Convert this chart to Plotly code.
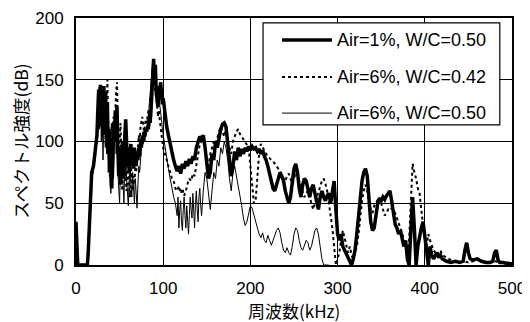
import plotly.graph_objects as go

# ---- data (frequency kHz, spectrum dB) ----
freq_a = [0, 1, 2, 5, 10, 13, 14, 16, 18, 20, 22, 24, 25, 26, 27, 28, 29, 30, 31, 32, 33, 34, 35, 36, 37, 38, 39, 40,
          41, 42, 43, 44, 45, 46, 47, 48, 49, 50, 51, 52, 53, 54, 55, 56, 57, 58, 59, 60, 61, 62, 63, 64, 65, 66, 67,
          68, 69, 70, 71, 72, 73, 74, 75, 76, 77, 78, 79, 80, 81, 82, 83, 84, 85, 86, 87, 88, 89, 90, 91, 92, 93, 94,
          95, 96, 97, 98, 99, 100, 102, 104, 106, 108, 110, 112, 114, 116, 118, 120, 122, 124, 126, 128, 130, 132,
          134, 136, 138, 140, 142, 144, 146, 148, 150, 152, 154, 156, 158, 160, 162, 164, 166, 168, 170, 172, 174,
          176, 178, 180, 182, 184, 186, 188, 190, 192, 194, 196, 198, 200, 202, 204, 206, 208, 210, 212, 214, 216,
          218, 220, 222, 224, 226, 228, 230, 232, 234, 236, 238, 240, 242, 244, 246, 248, 250, 252, 254, 256, 258,
          260, 262, 264, 266, 268, 270, 272, 274, 276, 278, 280, 282, 284, 286, 288, 290, 292, 294, 296, 298, 300,
          302, 304, 306, 308, 310, 312, 314, 316, 318, 320, 322, 324, 326, 328, 330, 332, 334, 336, 338, 340, 342,
          344, 346, 348, 350, 352, 354, 356, 358, 360, 362, 364, 366, 368, 370, 372, 374, 376, 378, 380, 382, 384,
          386, 388, 390, 392, 394, 396, 398, 400, 402, 404, 406, 408, 410, 412, 414, 416, 418, 420, 425, 430, 435,
          440, 444, 446, 448, 450, 452, 455, 460, 465, 470, 475, 478, 480, 482, 484, 486, 490, 495, 500]
db_a = [35, 12, 0, 0, 0, 0, 10, 45, 75, 80, 92, 105, 125, 142, 118, 146, 112, 138, 105, 145, 118, 140, 100, 132, 90,
        110, 75, 85, 62, 90, 115, 100, 125, 110, 128, 95, 72, 80, 65, 95, 85, 100, 70, 105, 118, 100, 80, 95, 75, 90,
        98, 80, 92, 78, 95, 85, 80, 90, 85, 95, 88, 100, 95, 105, 100, 108, 104, 110, 108, 112, 110, 118, 115, 125,
        145, 160, 167, 150, 162, 140, 130, 128, 145, 135, 148, 140, 130, 135, 120, 112, 105, 98, 90, 85, 80, 76, 80,
        74, 82, 78, 84, 80, 86, 82, 88, 85, 95, 100, 104, 102, 105, 95, 80, 70, 75, 90, 85, 100, 95, 105, 110, 114,
        115, 112, 100, 85, 72, 80, 92, 85, 95, 88, 94, 90, 95, 92, 96, 93, 96, 94, 95, 92, 94, 90, 93, 88, 85, 80,
        75, 68, 62, 60, 65, 70, 75, 72, 68, 60, 55, 50, 55, 65, 78, 82, 75, 62, 55, 65, 70, 68, 60, 55, 62, 65, 58,
        50, 45, 55, 60, 55, 52, 56, 58, 50, 60, 68, 45, 25, 20, 25, 15, 12, 8, 5, 3, 0, 5, 12, 25, 40, 55, 68, 75,
        78, 72, 55, 35, 28, 30, 40, 50, 54, 52, 55, 53, 56, 58, 60, 52, 40, 33, 30, 25, 28, 20, 15, 20, 5, 0, 35, 55,
        30, 0, 15, 25, 30, 35, 25, 15, 0, 15, 8, 5, 8, 10, 6, 8, 5, 3, 2, 3, 2, 3, 12, 18, 10, 5, 4, 5, 3, 2, 2, 3,
        10, 12, 4, 2, 2, 1, 1]

freq_b = [0, 1, 2, 13, 14, 16, 18, 20, 22, 24, 26, 27, 28, 29, 30, 31, 32, 33, 34, 35, 36, 37, 38, 39, 40, 41, 42, 43,
          44, 45, 46, 47, 48, 49, 50, 51, 52, 53, 54, 55, 56, 57, 58, 59, 60, 61, 62, 63, 64, 65, 66, 67, 68, 69, 70,
          71, 72, 73, 74, 75, 76, 77, 78, 79, 80, 81, 82, 83, 84, 85, 86, 87, 88, 89, 90, 91, 92, 93, 94, 95, 96, 97,
          98, 99, 100, 102, 104, 106, 108, 110, 112, 114, 116, 118, 120, 122, 124, 126, 128, 130, 132, 134, 136, 138,
          140, 142, 144, 146, 148, 150, 152, 154, 156, 158, 160, 162, 164, 166, 168, 170, 172, 174, 176, 178, 180,
          182, 184, 186, 188, 190, 192, 194, 196, 198, 200, 202, 204, 206, 208, 210, 212, 214, 216, 218, 220, 222,
          224, 226, 228, 230, 232, 234, 236, 238, 240, 242, 244, 246, 248, 250, 252, 254, 256, 258, 260, 262, 264,
          266, 268, 270, 272, 274, 276, 278, 280, 282, 284, 286, 288, 290, 292, 294, 296, 298, 300, 302, 304, 306,
          308, 310, 312, 314, 316, 318, 320, 322, 324, 326, 328, 330, 332, 334, 336, 338, 340, 342, 344, 346, 348,
          350, 352, 354, 356, 358, 360, 362, 364, 366, 368, 370, 372, 374, 376, 378, 380, 382, 384, 386, 388, 390,
          392, 394, 396, 398, 400, 402, 404, 406, 408, 410, 412, 414, 416, 418, 420, 425, 430, 435, 440, 445, 450,
          455, 460, 470, 480, 490, 500]
db_b = [30, 10, 0, 0, 8, 40, 70, 78, 90, 100, 130, 145, 120, 140, 105, 135, 110, 140, 95, 120, 150, 110, 90, 70, 95,
        115, 100, 120, 105, 130, 140, 148, 110, 80, 100, 115, 90, 60, 85, 95, 80, 70, 60, 75, 85, 65, 55, 80, 70, 60,
        72, 65, 80, 75, 90, 95, 105, 100, 112, 118, 120, 115, 108, 112, 118, 115, 120, 125, 118, 130, 140, 150, 155,
        160, 145, 140, 135, 130, 120, 125, 118, 110, 108, 100, 95, 90, 85, 80, 75, 70, 68, 62, 60, 64, 58, 62, 56,
        60, 66, 70, 68, 74, 72, 80, 90, 98, 100, 104, 95, 85, 80, 90, 95, 100, 98, 104, 108, 112, 108, 104, 110, 100,
        95, 90, 100, 105, 108, 110, 106, 104, 102, 100, 98, 95, 80, 62, 50, 52, 70, 90, 98, 95, 92, 90, 88, 86, 85,
        84, 82, 80, 78, 76, 72, 70, 68, 72, 74, 70, 66, 70, 75, 72, 68, 64, 60, 55, 58, 60, 55, 50, 45, 50, 55, 60,
        65, 68, 70, 66, 60, 50, 40, 30, 15, 0, 5, 10, 20, 28, 22, 15, 10, 15, 8, 5, 10, 15, 25, 40, 52, 60, 65, 60,
        50, 45, 42, 48, 50, 52, 55, 50, 45, 40, 42, 45, 44, 46, 44, 42, 38, 34, 30, 26, 20, 15, 10, 20, 50, 82, 75,
        70, 62, 58, 45, 30, 20, 15, 25, 20, 15, 12, 10, 8, 10, 12, 8, 6, 4, 3, 2, 3, 2, 3, 4, 2, 3, 2, 2, 1]

freq_c = [0, 1, 2, 13, 14, 16, 18, 20, 22, 24, 25, 26, 27, 28, 29, 30, 31, 32, 33, 34, 35, 36, 37, 38, 39, 40, 41, 42,
          43, 44, 45, 46, 47, 48, 49, 50, 51, 52, 53, 54, 55, 56, 57, 58, 59, 60, 61, 62, 63, 64, 65, 66, 67, 68, 69,
          70, 71, 72, 73, 74, 75, 76, 77, 78, 79, 80, 81, 82, 83, 84, 85, 86, 87, 88, 89, 90, 91, 92, 93, 94, 95, 96,
          97, 98, 99, 100, 102, 104, 106, 108, 110, 112, 114, 116, 117, 118, 119, 120, 121, 122, 123, 124, 125, 126,
          127, 128, 129, 130, 131, 132, 133, 134, 135, 136, 137, 138, 139, 140, 141, 142, 143, 144, 146, 148, 150,
          152, 154, 156, 158, 160, 162, 164, 166, 168, 170, 172, 174, 176, 178, 180, 182, 184, 186, 188, 190, 192,
          194, 196, 198, 200, 202, 204, 206, 208, 210, 212, 214, 216, 218, 220, 222, 224, 226, 228, 230, 232, 234,
          236, 238, 240, 242, 244, 246, 248, 250, 252, 254, 256, 258, 260, 262, 264, 266, 268, 270, 272, 274, 276,
          278, 280, 282, 284, 290]
db_c = [35, 10, 0, 0, 10, 50, 75, 80, 90, 100, 115, 135, 110, 140, 100, 125, 85, 130, 110, 130, 90, 105, 75, 95, 65,
        58, 80, 100, 70, 110, 120, 90, 110, 75, 55, 50, 80, 100, 80, 60, 50, 85, 95, 70, 55, 48, 70, 85, 65, 55, 75,
        60, 50, 70, 60, 46, 65, 80, 75, 90, 95, 100, 98, 105, 100, 108, 112, 118, 120, 130, 140, 150, 158, 165, 160,
        150, 145, 135, 128, 130, 138, 130, 125, 118, 110, 105, 95, 85, 78, 70, 62, 55, 50, 40, 55, 30, 45, 52, 35,
        28, 45, 55, 40, 30, 48, 35, 25, 40, 55, 45, 38, 58, 42, 30, 50, 60, 45, 35, 55, 62, 48, 40, 60, 75, 70, 55,
        45, 60, 75, 70, 85, 80, 95, 90, 100, 95, 85, 70, 60, 75, 80, 72, 65, 55, 48, 38, 32, 35, 42, 48, 46, 40, 35,
        30, 25, 22, 26, 20, 18, 24, 20, 16, 20, 24, 28, 30, 26, 18, 12, 10, 14, 10, 8, 15, 25, 30, 28, 20, 14, 12,
        16, 20, 18, 12, 15, 22, 28, 30, 25, 15, 5, 0, 0]

series_names = ["Air=1%, W/C=0.50", "Air=6%, W/C=0.42", "Air=6%, W/C=0.50"]
x_ticks = [0, 100, 200, 300, 400, 500]
y_ticks = [0, 50, 100, 150, 200]
x_title = "周波数(kHz)"
y_title = "スペクトル強度(dB)"

FONT = "Liberation Sans, Arial, Noto Sans CJK JP, sans-serif"
JP = "Noto Sans CJK JP, Liberation Sans, sans-serif"

styles = [dict(color="black", width=3.5),
          dict(color="black", width=2, dash="dot"),
          dict(color="black", width=1)]
series = [(freq_a, db_a), (freq_b, db_b), (freq_c, db_c)]

fig = go.Figure()
for (fx, fy), name, st in zip(series, series_names, styles):
    fig.add_trace(go.Scatter(x=fx, y=fy, mode="lines", name=name, line=st, showlegend=False))

# ---- legend box drawn inside the plot (upper right), as in the reference ----
box = dict(x0=0.429, x1=0.972, y0=0.567, y1=0.980)
row_y = [0.911, 0.761, 0.615]
line_x = (0.4725, 0.587)
text_x = 0.593
shapes = [dict(type="rect", xref="paper", yref="paper", layer="above",
               fillcolor="white", line=dict(color="black", width=1.2), **box)]
annotations = []
for name, st, ry in zip(series_names, styles, row_y):
    shapes.append(dict(type="line", xref="paper", yref="paper", layer="above",
                       x0=line_x[0], x1=line_x[1], y0=ry, y1=ry, line=st))
    annotations.append(dict(text=name, xref="paper", yref="paper", x=text_x, y=ry,
                            xanchor="left", yanchor="middle", showarrow=False,
                            font=dict(family=FONT, size=18, color="black")))

# axis titles
annotations.append(dict(text=x_title, xref="paper", yref="paper", x=0.5, y=-0.183,
                        xanchor="center", yanchor="middle", showarrow=False,
                        font=dict(family=JP, size=17, color="black")))
annotations.append(dict(text=y_title, xref="paper", yref="paper", x=-0.128, y=0.50,
                        xanchor="center", yanchor="middle", showarrow=False, textangle=-90,
                        font=dict(family=JP, size=17.5, color="black")))

# the page body adds an 8 px margin, so the figure is sized 8 px smaller
fig.update_layout(
    width=522, height=314,
    margin=dict(l=68, r=18, t=10, b=57, autoexpand=False),
    paper_bgcolor="white", plot_bgcolor="white",
    font=dict(family=FONT, size=17, color="black"),
    showlegend=False,
    shapes=shapes, annotations=annotations,
)
fig.update_xaxes(range=[0, 500], tickvals=x_ticks, ticktext=[str(v) for v in x_ticks],
                 showgrid=True, gridcolor="black", gridwidth=1,
                 showline=True, linecolor="black", linewidth=2, mirror=True,
                 ticks="", zeroline=False, automargin=False, ticklabelstandoff=7,
                 ticklabeloverflow="allow", tickfont=dict(family=FONT, size=17))
fig.update_yaxes(range=[0, 200], tickvals=y_ticks, ticktext=[str(v) for v in y_ticks],
                 showgrid=True, gridcolor="black", gridwidth=1,
                 showline=True, linecolor="black", linewidth=2, mirror=True,
                 ticks="", zeroline=False, automargin=False, ticklabelstandoff=7,
                 ticklabeloverflow="allow", tickfont=dict(family=FONT, size=17))

fig.write_html("out.html")
